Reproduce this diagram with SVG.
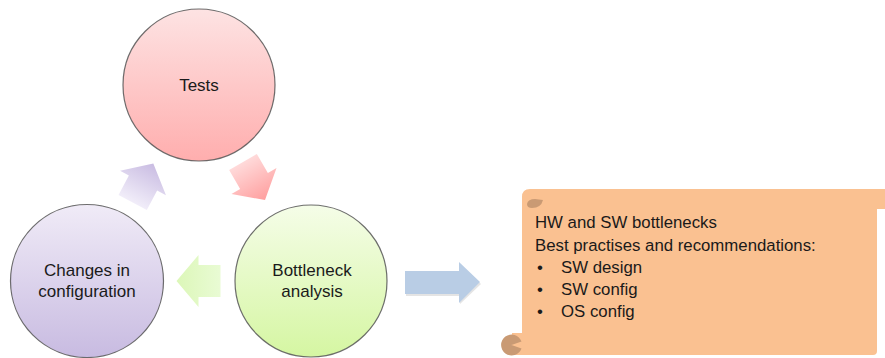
<svg xmlns="http://www.w3.org/2000/svg" width="885" height="358" viewBox="0 0 885 358">
  <style>
    .node { stroke: #4a4a4a; stroke-width: 1.2; stroke-opacity: 0.8; }
    .label { font-family: "Liberation Sans", Arial, sans-serif; font-size: 17px; fill: #1a1a1a; text-anchor: middle; }
    .note { font-family: "Liberation Sans", Arial, sans-serif; font-size: 16.8px; fill: #1a1a1a; }
  </style>
  <defs>
    <linearGradient id="gTests" x1="0" y1="0" x2="0" y2="1">
      <stop offset="0" stop-color="#fde3e3"/>
      <stop offset="1" stop-color="#ffaeae"/>
    </linearGradient>
    <linearGradient id="gChanges" x1="0" y1="0" x2="0" y2="1">
      <stop offset="0" stop-color="#f0ebf7"/>
      <stop offset="1" stop-color="#c8bbe1"/>
    </linearGradient>
    <linearGradient id="gBottleneck" x1="0" y1="0" x2="0" y2="1">
      <stop offset="0" stop-color="#f5fde8"/>
      <stop offset="1" stop-color="#d5f6a2"/>
    </linearGradient>
    <linearGradient id="gArrowPurple" x1="0" y1="0" x2="1" y2="0">
      <stop offset="0" stop-color="#f1edf9"/>
      <stop offset="1" stop-color="#c9bce2"/>
    </linearGradient>
    <linearGradient id="gArrowPink" x1="0" y1="0" x2="1" y2="0">
      <stop offset="0" stop-color="#ffdada"/>
      <stop offset="1" stop-color="#ff9f9f"/>
    </linearGradient>
    <linearGradient id="gArrowGreen" x1="0" y1="0" x2="1" y2="0">
      <stop offset="0" stop-color="#e9fbd4"/>
      <stop offset="1" stop-color="#dcf7b8"/>
    </linearGradient>
    <!-- block arrow pointing right, centred on the origin -->
    <path id="blockArrow" d="M-22,-16 H0 V-26 L22,0 L0,26 V16 H-22 Z"/>
  </defs>

  <!-- cycle connectors and output arrow -->
  <g id="connectors">
    <use href="#blockArrow" fill="url(#gArrowPurple)" transform="translate(143,183) rotate(-62)"/>
    <use href="#blockArrow" fill="url(#gArrowPink)" transform="translate(254,181) rotate(60)"/>
    <use href="#blockArrow" fill="url(#gArrowGreen)" transform="translate(198.5,281) rotate(180)"/>
    <path d="M406,273 H460 V264 L481,284 L460,304 V296 H406 Z" fill="#c9c9c9" opacity="0.5"/>
    <path d="M405,271 H459 V262 L480,282 L459,303 V294 H405 Z" fill="#b9cde5"/>
  </g>

  <g id="tests">
    <circle class="node" cx="199" cy="85" r="76" fill="url(#gTests)"/>
    <text class="label" x="199" y="91">Tests</text>
  </g>

  <g id="changes">
    <circle class="node" cx="87" cy="281" r="76.5" fill="url(#gChanges)"/>
    <text class="label" x="87" y="276">Changes in</text>
    <text class="label" x="87" y="297">configuration</text>
  </g>

  <g id="bottleneck">
    <circle class="node" cx="311" cy="281" r="76" fill="url(#gBottleneck)"/>
    <text class="label" x="312" y="276">Bottleneck</text>
    <text class="label" x="312" y="297">analysis</text>
  </g>

  <g id="results">
    <!-- scroll body -->
    <path d="M522,197 Q522,189 530,189 H885 V209 H877 V351 Q877,355 873,355 H512 V333 H522 Z" fill="#fac191"/>
    <!-- curled corners -->
    <path d="M543,200 Q541,208 532,208 Q527,208 527,204 Q528,199 535,199 Z" fill="#c99a74"/>
    <path d="M511.5,345 L521.5,341.5 A10.5,10.5 0 1,0 521.5,348.5 Z" fill="#c99a74"/>
    <text class="note" x="535" y="228">HW and SW bottlenecks</text>
    <text class="note" x="535" y="251">Best practises and recommendations:</text>
    <text class="note" x="537" y="273">•</text>
    <text class="note" x="561" y="273">SW design</text>
    <text class="note" x="537" y="295">•</text>
    <text class="note" x="561" y="295">SW config</text>
    <text class="note" x="537" y="317">•</text>
    <text class="note" x="561" y="317">OS config</text>
  </g>
</svg>
